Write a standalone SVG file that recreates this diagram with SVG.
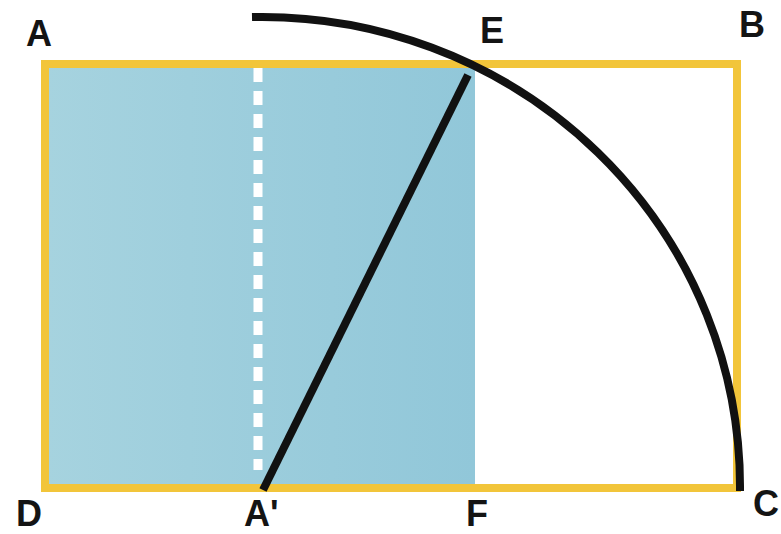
<svg xmlns="http://www.w3.org/2000/svg" width="781" height="534" viewBox="0 0 781 534">
<style>
.lbl{font-family:"Liberation Sans",Arial,sans-serif;font-weight:bold;font-size:36px;fill:#141414}
.blk{fill:none;stroke:#111;stroke-width:8}
</style>
<defs>
<linearGradient id="bl" x1="0" y1="0" x2="1" y2="0">
<stop offset="0" stop-color="#a6d3df"/>
<stop offset="1" stop-color="#91c7d9"/>
</linearGradient>
</defs>
<rect width="781" height="534" fill="#fff"/>
<g id="square">
<rect x="46" y="66" width="429" height="420" fill="url(#bl)"/>
</g>
<g id="rectangle">
<rect x="45" y="64" width="692" height="424" fill="none" stroke="#f2c53a" stroke-width="8"/>
</g>
<g id="connectors">
<line x1="258" y1="68" x2="258" y2="470" stroke="#fff" stroke-width="9" stroke-dasharray="14 9"/>
<line class="blk" x1="263" y1="490" x2="468" y2="75"/>
<path class="blk" d="M 252 17 A 478 470 0 0 1 740 491"/>
</g>
<g id="labels">
<text class="lbl" x="26" y="46">A</text>
<text class="lbl" x="480" y="43">E</text>
<text class="lbl" x="739" y="37">B</text>
<text class="lbl" x="16" y="526">D</text>
<text class="lbl" x="244" y="526">A'</text>
<text class="lbl" x="466" y="526">F</text>
<text class="lbl" x="753" y="516">C</text>
</g>
</svg>
